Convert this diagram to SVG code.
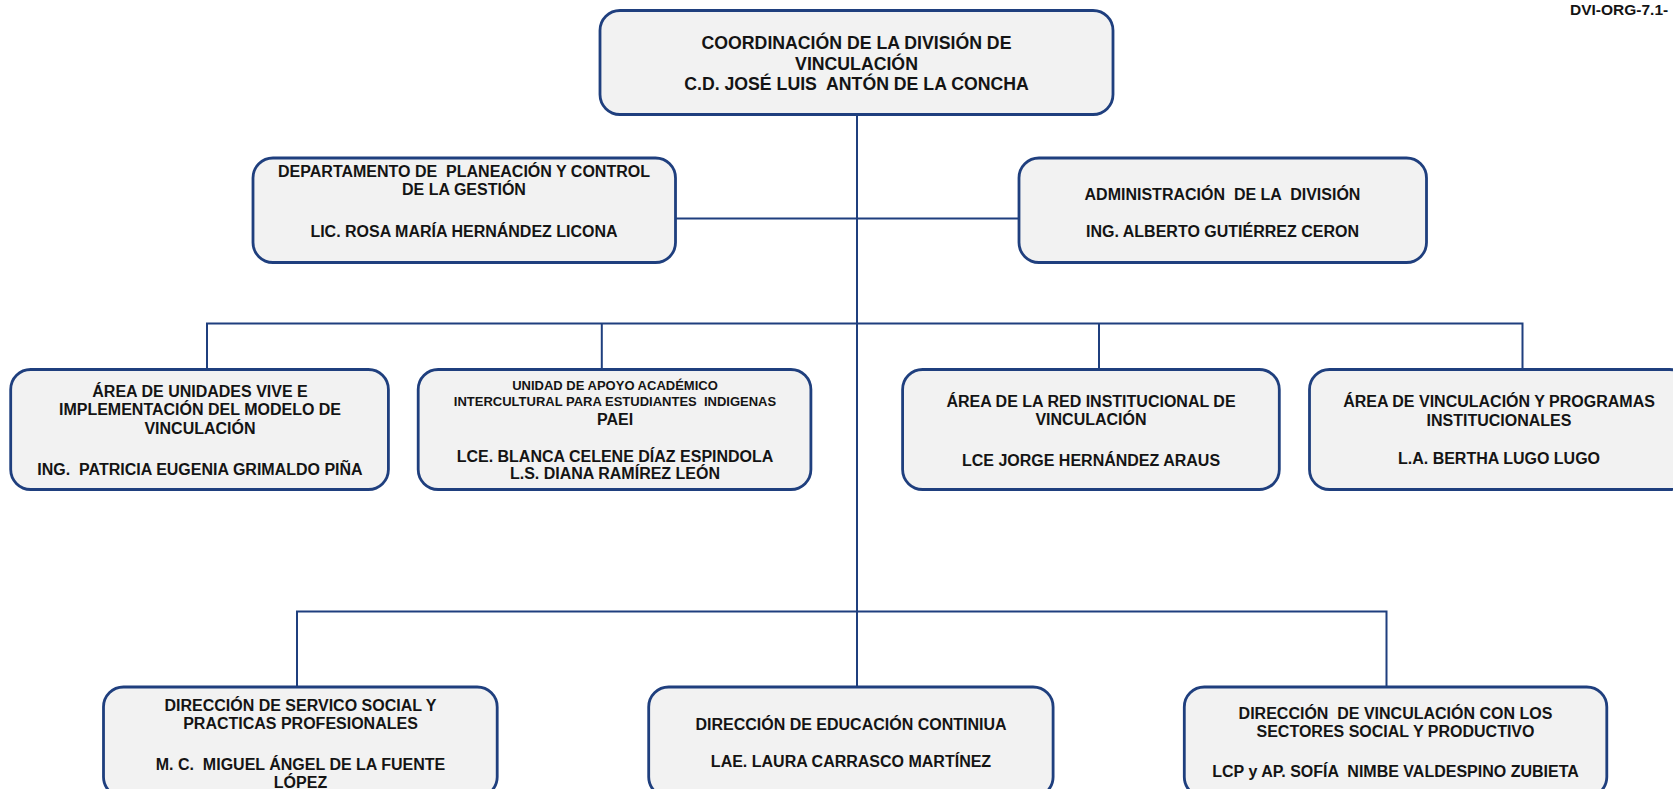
<svg xmlns="http://www.w3.org/2000/svg" width="1673" height="789" viewBox="0 0 1673 789">
<style>
.box{fill:#F2F2F2;stroke:#1F3F7E;stroke-width:2.8}
.conn{stroke:#1F3F7E;stroke-width:2;fill:none}
text{font-family:"Liberation Sans",Arial,sans-serif;font-weight:bold;fill:#141414;text-anchor:middle;font-size:16px;white-space:pre}
.big{font-size:17.7px}
.small{font-size:13px}
</style>
<rect width="1673" height="789" fill="#FFFFFF"/>
<text x="1570" y="15" style="text-anchor:start;font-size:15.5px">DVI-ORG-7.1-</text>
<g id="connectors">
<path class="conn" d="M857 115 V687"/>
<path class="conn" d="M675 218.5 H1019"/>
<path class="conn" d="M207 369 V323.5 H1522.5 V369"/>
<path class="conn" d="M601.8 323.5 V369"/>
<path class="conn" d="M1099 323.5 V369"/>
<path class="conn" d="M297 687 V611.5 H1386.5 V687"/>
</g>
<g id="coordinacion">
<rect class="box" x="600" y="10.5" width="513" height="104" rx="20"/>
<text class="big" x="856.5" y="49">COORDINACIÓN DE LA DIVISIÓN DE</text>
<text class="big" x="856.5" y="69.5">VINCULACIÓN</text>
<text class="big" x="856.5" y="90">C.D. JOSÉ LUIS  ANTÓN DE LA CONCHA</text>
</g>
<g id="planeacion">
<rect class="box" x="253" y="158" width="422.5" height="104.5" rx="20"/>
<text x="464" y="177">DEPARTAMENTO DE  PLANEACIÓN Y CONTROL</text>
<text x="464" y="195">DE LA GESTIÓN</text>
<text x="464" y="237">LIC. ROSA MARÍA HERNÁNDEZ LICONA</text>
</g>
<g id="administracion">
<rect class="box" x="1019" y="158" width="407.5" height="104.5" rx="20"/>
<text x="1222.5" y="200">ADMINISTRACIÓN  DE LA  DIVISIÓN</text>
<text x="1222.5" y="237">ING. ALBERTO GUTIÉRREZ CERON</text>
</g>
<g id="unidades-vive">
<rect class="box" x="10.7" y="369.5" width="377.7" height="120" rx="20"/>
<text x="200" y="397">ÁREA DE UNIDADES VIVE E</text>
<text x="200" y="415">IMPLEMENTACIÓN DEL MODELO DE</text>
<text x="200" y="433.5">VINCULACIÓN</text>
<text x="200" y="475">ING.  PATRICIA EUGENIA GRIMALDO PIÑA</text>
</g>
<g id="paei">
<rect class="box" x="418.2" y="369.5" width="392.7" height="120" rx="20"/>
<text class="small" x="615" y="389.5">UNIDAD DE APOYO ACADÉMICO</text>
<text class="small" x="615" y="405.7">INTERCULTURAL PARA ESTUDIANTES  INDIGENAS</text>
<text x="615" y="425">PAEI</text>
<text x="615" y="461.5">LCE. BLANCA CELENE DÍAZ ESPINDOLA</text>
<text x="615" y="478.5">L.S. DIANA RAMÍREZ LEÓN</text>
</g>
<g id="red-institucional">
<rect class="box" x="902.6" y="369.5" width="376.7" height="120" rx="20"/>
<text x="1091" y="406.7">ÁREA DE LA RED INSTITUCIONAL DE</text>
<text x="1091" y="425">VINCULACIÓN</text>
<text x="1091" y="466">LCE JORGE HERNÁNDEZ ARAUS</text>
</g>
<g id="programas-institucionales">
<rect class="box" x="1309.5" y="369.5" width="380" height="120" rx="20"/>
<text x="1499" y="406.7">ÁREA DE VINCULACIÓN Y PROGRAMAS</text>
<text x="1499" y="426">INSTITUCIONALES</text>
<text x="1499" y="464">L.A. BERTHA LUGO LUGO</text>
</g>
<g id="servicio-social">
<rect class="box" x="103.5" y="687" width="393.7" height="110" rx="20"/>
<text x="300.5" y="710.7">DIRECCIÓN DE SERVICO SOCIAL Y</text>
<text x="300.5" y="728.5">PRACTICAS PROFESIONALES</text>
<text x="300.5" y="770">M. C.  MIGUEL ÁNGEL DE LA FUENTE</text>
<text x="300.5" y="787.5">LÓPEZ</text>
</g>
<g id="educacion-continua">
<rect class="box" x="648.7" y="687" width="404.4" height="110" rx="20"/>
<text x="851" y="730">DIRECCIÓN DE EDUCACIÓN CONTINIUA</text>
<text x="851" y="767.3">LAE. LAURA CARRASCO MARTÍNEZ</text>
</g>
<g id="sectores">
<rect class="box" x="1184.3" y="687" width="422.5" height="110" rx="20"/>
<text x="1395.5" y="719">DIRECCIÓN  DE VINCULACIÓN CON LOS</text>
<text x="1395.5" y="737.3">SECTORES SOCIAL Y PRODUCTIVO</text>
<text x="1395.5" y="776.7">LCP y AP. SOFÍA  NIMBE VALDESPINO ZUBIETA</text>
</g>
</svg>
